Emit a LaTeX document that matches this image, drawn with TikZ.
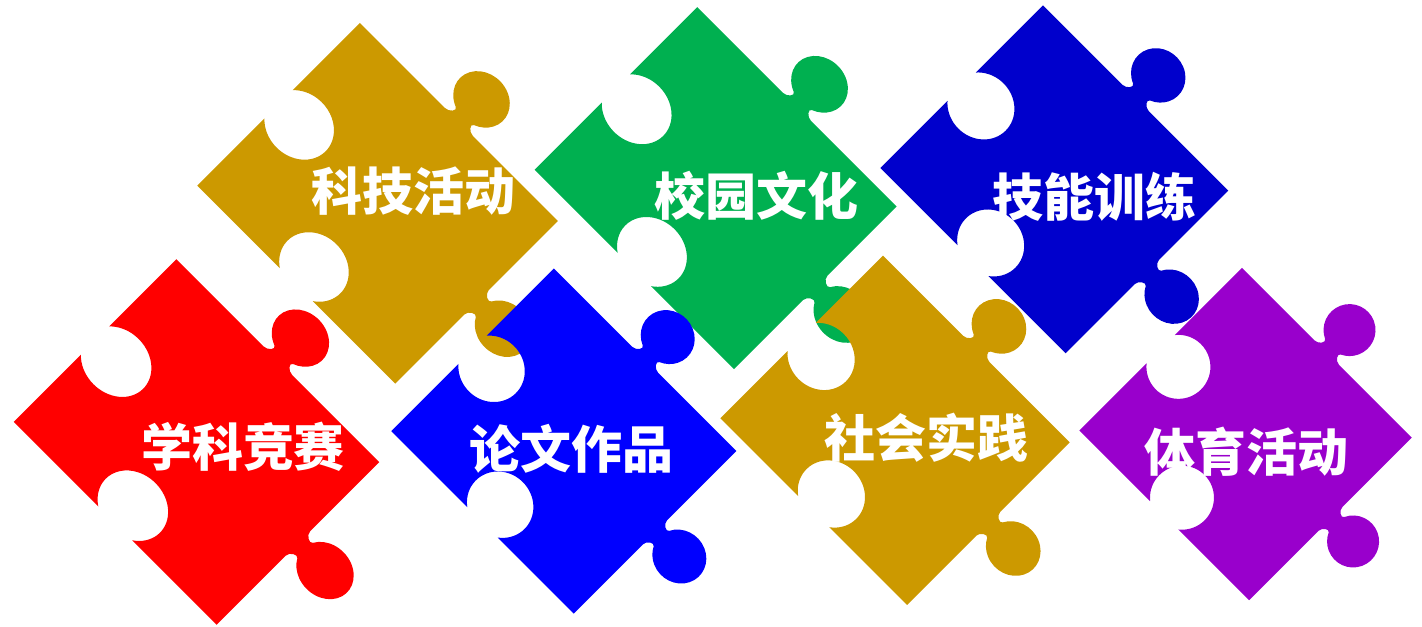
\documentclass[tikz,border=0pt]{standalone}
\usepackage{fontspec}
\newfontfamily\cjk{Noto Sans CJK SC}
\definecolor{pgold}{HTML}{CC9900}
\definecolor{pgreen}{HTML}{00B050}
\definecolor{pdblue}{HTML}{0000CC}
\definecolor{pred}{HTML}{FF0000}
\definecolor{pblue}{HTML}{0000FF}
\definecolor{ppurple}{HTML}{9900CC}
\newcommand{\piecepath}{(-120,115) -- (-17,115) .. controls (-12,115) and (-7.4,121.7) .. (-11,123.4)
  arc[start angle=245, end angle=-65, radius=26] .. controls (7.4,121.7) and (12,115) .. (17,115)
  -- (120,115) -- (120,17) .. controls (120,12) and (126.7,7.4) .. (128.4,11)
  arc[start angle=155, end angle=-155, radius=26] .. controls (126.7,-7.4) and (120,-12) .. (120,-17)
  -- (120,-115) -- (20,-115) arc[start angle=-51.34, end angle=231.34, radius=32]
  -- (-120,-115) -- (-120,-20) arc[start angle=-141.34, end angle=141.34, radius=32] -- cycle}
\newcommand{\puzzle}[4]{%
  \begin{scope}[shift={(#1,-#2)}, rotate=-45, xscale=#3]
    \fill[#4] \piecepath;
  \end{scope}}
\tikzset{lbl/.style={text=white, font=\cjk\bfseries\fontsize{14.5pt}{16pt}\selectfont, inner sep=0pt}}
\begin{document}
\begin{tikzpicture}[x=0.01cm, y=0.01cm]
\useasboundingbox (0,0) rectangle (1422,-626);
% top row
\puzzle{377.6}{203.3}{1.167}{pgold}
\puzzle{715.6}{188.2}{1.175}{pgreen}
\puzzle{1054.3}{179.3}{1.092}{pdblue}
% bottom row
\puzzle{196.5}{442}{1.196}{pred}
\puzzle{563.8}{441}{1.075}{pblue}
\puzzle{895}{430.3}{1.1}{pgold}
\puzzle{1245.6}{434}{1.0}{ppurple}
% labels
\node[lbl] (t1) at (413,-191) {科技活动};
\node[lbl] (t2) at (756,-196) {校园文化};
\node[lbl] (t3) at (1094,-197) {技能训练};
\node[lbl] (t4) at (243,-447) {学科竞赛};
\node[lbl] (t5) at (571.7,-448.3) {论文作品};
\node[lbl] (t6) at (926,-438) {社会实践};
\node[lbl] (t7) at (1246.7,-452) {体育活动};
\end{tikzpicture}
\end{document}
